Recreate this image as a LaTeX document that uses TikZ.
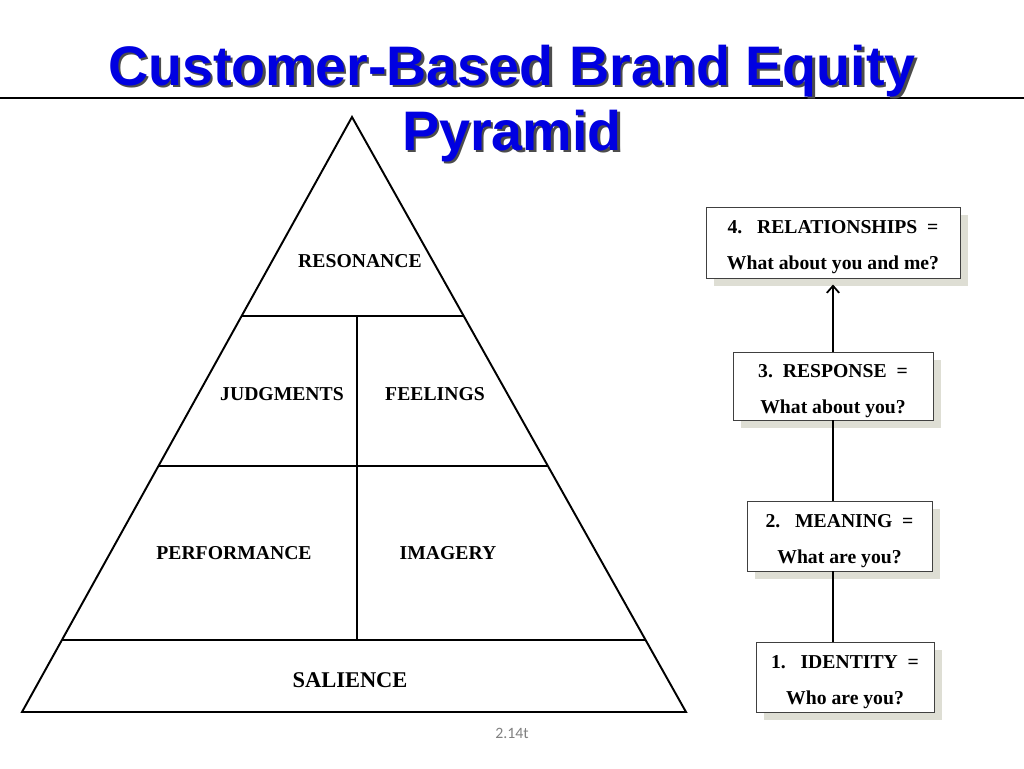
\documentclass[tikz,border=0pt]{standalone}
\usepackage{fontspec}
\setmainfont{Liberation Serif}
\newfontfamily\titlefont{Liberation Sans}
\newfontfamily\notefont{Carlito}
\usetikzlibrary{shadows,arrows.meta}
\definecolor{titleblue}{RGB}{0,0,225}
\definecolor{boxshade}{RGB}{222,222,212}
\newcommand\stagelines[2]{\rule{0pt}{13pt}#1\\#2}

\begin{document}
\begin{tikzpicture}[x=0.02cm,y=-0.02cm,
    heading/.style={font=\titlefont\bfseries\fontsize{31.7}{36}\selectfont,anchor=base},
    level/.style={font=\bfseries\fontsize{11.2}{13}\selectfont},
    stage/.style={draw=black!75,thin,fill=white,align=center,inner sep=0pt,
        font=\bfseries\fontsize{11.2}{20.4}\selectfont,
        drop shadow={shadow xshift=4.5pt,shadow yshift=-4.5pt,fill=boxshade,opacity=1}}]
    \useasboundingbox (0,0) rectangle (1024,768);

    % title
    \draw[line width=1.4pt] (0,98) -- (1024,98);
    \node[heading,text=black!70] (title1s) at (514.5,87.5) {Customer-Based Brand Equity};
    \node[heading,text=titleblue] (title1) at (512,85) {Customer-Based Brand Equity};
    \node[heading,text=black!70] (title2s) at (514.5,152.5) {Pyramid};
    \node[heading,text=titleblue] (title2) at (512,150) {Pyramid};

    % pyramid
    \draw[line width=1.1pt,line join=miter] (352,117) -- (686,712) -- (22,712) -- cycle;
    \draw[line width=1.1pt] (242,316) -- (464,316);
    \draw[line width=1.1pt] (158,466) -- (548,466);
    \draw[line width=1.1pt] (62,640) -- (646,640);
    \draw[line width=1.1pt] (357,316) -- (357,640);

    \node[level] (resonance) at (360,261) {RESONANCE};
    \node[level] (judgments) at (282,394) {JUDGMENTS};
    \node[level] (feelings) at (435,394) {FEELINGS};
    \node[level] (performance) at (234,553) {PERFORMANCE};
    \node[level] (imagery) at (448,553) {IMAGERY};
    \node[level,font=\bfseries\fontsize{12.8}{15}\selectfont] (salience) at (350,680) {SALIENCE};

    % stages
    \node[stage,minimum width=5.08cm,minimum height=1.42cm] (b4) at (833,242.5)
        {\stagelines{4.~~~RELATIONSHIPS~~=}{What about you and me?}};
    \node[stage,minimum width=4.0cm,minimum height=1.36cm] (b3) at (833,386)
        {\stagelines{3.~~RESPONSE~~=}{What about you?}};
    \node[stage,minimum width=3.7cm,minimum height=1.4cm] (b2) at (839.5,536)
        {\stagelines{2.~~~MEANING~~=}{What are you?}};
    \node[stage,minimum width=3.56cm,minimum height=1.4cm] (b1) at (845,677)
        {\stagelines{1.~~~IDENTITY~~=}{Who are you?}};

    \draw[line width=1pt] (b1.north -| b4.south) -- (b2.south -| b4.south);
    \draw[line width=1pt] (b2.north -| b4.south) -- (b3.south);
    \draw[line width=1pt,-{Straight Barb[length=4pt,width=7pt]},shorten >=3.5pt] (b3.north) -- (b4.south);

    \node[font=\notefont\fontsize{9}{11}\selectfont,text=black!50] (slide) at (512,733) {2.14t};
\end{tikzpicture}
\end{document}
